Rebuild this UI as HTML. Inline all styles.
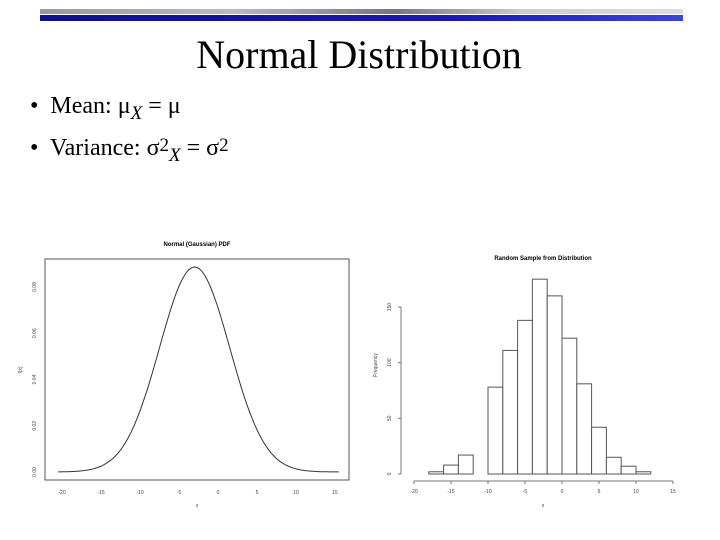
<!DOCTYPE html>
<html><head><meta charset="utf-8"><style>
body{margin:0;width:720px;height:540px;background:#fff;overflow:hidden;position:relative;font-family:"Liberation Serif",serif}
.t{position:absolute}
</style></head><body>
<div class="t" style="left:40px;top:9px;width:643px;height:5px;background:linear-gradient(90deg,#999,#bbb 30%,#777 55%,#ccc 75%,#ddd)"></div>
<div class="t" style="left:40px;top:15px;width:643px;height:6px;background:linear-gradient(90deg,#10108a,#1a1ab0 65%,#3a44d8)"></div>
<div class="t" style="left:0;width:718px;top:31px;text-align:center;font-size:40px">Normal Distribution</div>
<div class="t" style="left:30px;top:93px;font-size:24px">•&nbsp; Mean: μ<sub style="font-style:italic;font-size:19px">X</sub> = μ</div>
<div class="t" style="left:30px;top:135px;font-size:24px">•&nbsp; Variance: σ<span style="font-size:19px;vertical-align:top">2</span><sub style="font-style:italic;font-size:19px">X</sub> = σ<span style="font-size:19px;vertical-align:top">2</span></div>
<svg class="t" style="left:0;top:0" width="720" height="540" font-family="Liberation Sans, sans-serif">
<g id="left"></g>
<g id="right"></g>
</svg>
<script>
const pdfMean=-3, pdfSd=4.5;
const pdfXTicks=[-20,-15,-10,-5,0,5,10,15];
const pdfYTicks=[0,0.02,0.04,0.06,0.08];
const pdfYLabels=["0.00","0.02","0.04","0.06","0.08"];
const histBins=[-18,-16,-14,-12,-10,-8,-6,-4,-2,0,2,4,6,8,10];
const histCounts=[2,8,17,0,78,111,138,175,160,122,81,42,15,7,2];
const histXTicks=[-20,-15,-10,-5,0,5,10,15];
const histYTicks=[0,50,100,150];
const ns="http://www.w3.org/2000/svg";
function mk(p,tag,a,txt){const e=document.createElementNS(ns,tag);for(const k in a)e.setAttribute(k,a[k]);if(txt!==undefined)e.textContent=txt;p.appendChild(e);return e;}
// left
const L=document.getElementById('left');
const lx=v=>62+(v+20)*(273/35), ly=v=>472-v*(185/0.08);
let e=mk(L,'rect',{x:45,y:259,width:304,height:221,fill:'none',stroke:'#555','stroke-width':1});

e=mk(L,'text',{x:197,y:246,'font-size':6,'font-weight':'bold','text-anchor':'middle'},'Normal (Gaussian) PDF');

let d='';for(let i=0;i<=200;i++){const x=-20.5+36*i/200;const y=Math.exp(-0.5*((x-pdfMean)/pdfSd)**2)/(pdfSd*Math.sqrt(2*Math.PI));d+=(i?'L':'M')+lx(x).toFixed(1)+' '+ly(y).toFixed(1);}
e=mk(L,'path',{d:d,fill:'none',stroke:'#333','stroke-width':1});

pdfXTicks.forEach(v=>{e=mk(L,'text',{x:lx(v),y:494,'font-size':5,'text-anchor':'middle',fill:'#444'},String(v));
});
pdfYTicks.forEach((v,i)=>{e=mk(L,'text',{x:36,y:ly(v),'font-size':5,'text-anchor':'middle',fill:'#444',transform:`rotate(-90 36 ${ly(v)})`},pdfYLabels[i]);
});
e=mk(L,'text',{x:197,y:507,'font-size':5,'text-anchor':'middle',fill:'#444'},'x');

e=mk(L,'text',{x:22,y:370,'font-size':5,'text-anchor':'middle',fill:'#444',transform:'rotate(-90 22 370)'},'f(x)');

// right
const R=document.getElementById('right');
const rx=v=>414+(v+20)*(259/35), ry=v=>474-v*(167/150);
e=mk(R,'text',{x:543,y:260,'font-size':6,'font-weight':'bold','text-anchor':'middle'},'Random Sample from Distribution');

histBins.forEach((b,i)=>{e=mk(R,'rect',{x:rx(b),y:ry(histCounts[i]),width:rx(b+2)-rx(b),height:ry(0)-ry(histCounts[i]),fill:'#fff',stroke:'#555','stroke-width':1});
});
e=mk(R,'line',{x1:rx(-20),x2:rx(15),y1:481,y2:481,stroke:'#777'});

histXTicks.forEach(v=>{mk(R,'line',{x1:rx(v),x2:rx(v),y1:481,y2:484,stroke:'#777'});
e=mk(R,'text',{x:rx(v),y:493,'font-size':5,'text-anchor':'middle',fill:'#444'},String(v));
});
e=mk(R,'line',{x1:401,x2:401,y1:ry(0),y2:ry(150),stroke:'#777'});

histYTicks.forEach(v=>{mk(R,'line',{x1:398,x2:401,y1:ry(v),y2:ry(v),stroke:'#777'});
e=mk(R,'text',{x:391,y:ry(v),'font-size':5,'text-anchor':'middle',fill:'#444',transform:`rotate(-90 391 ${ry(v)})`},String(v));
});
e=mk(R,'text',{x:543,y:507,'font-size':5,'text-anchor':'middle',fill:'#444'},'x');

e=mk(R,'text',{x:377,y:365,'font-size':5,'text-anchor':'middle',fill:'#444',transform:'rotate(-90 377 365)'},'Frequency');

</script>
</body></html>
